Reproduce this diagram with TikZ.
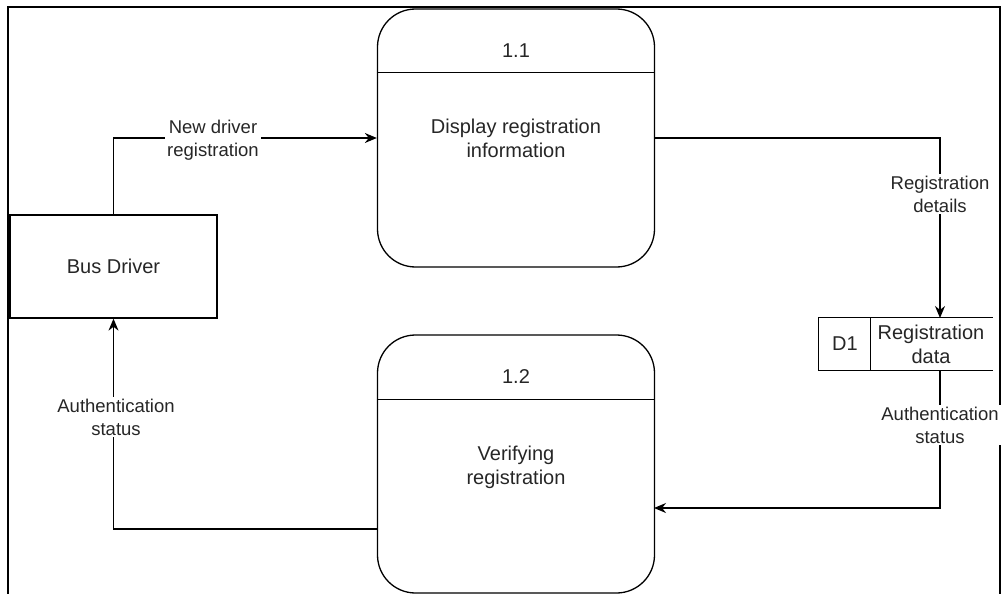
\documentclass[tikz,border=0pt]{standalone}
\usepackage{fontspec}
\setmainfont{Liberation Sans}
\usetikzlibrary{arrows.meta}

\begin{document}
\begin{tikzpicture}[x=1pt,y=-1pt,
  line width=1.3pt,
  every node/.style={text=black!85, align=center},
  proc/.style={draw, rounded corners=38pt, minimum width=277pt, minimum height=258pt},
  entity/.style={draw, minimum width=207pt, minimum height=103pt, font=\fontsize{20}{24}\selectfont},
  store/.style={minimum width=173pt, minimum height=52pt},
  maintext/.style={font=\fontsize{20}{24}\selectfont},
  flowlabel/.style={fill=white, inner sep=2pt, font=\fontsize{18.5}{23}\selectfont},
  flow/.style={-{Stealth[length=12pt,width=10pt]}}
]
\useasboundingbox (0,0) rectangle (1005,594);

% outer frame, open at the bottom
\draw[line width=1.6pt] (8,594) -- (8,7) -- (1000,7) -- (1000,594);

% external entity
\node[entity] (bd) at (113.5,266.5) {Bus Driver};

% process 1.1
\node[proc] (p11) at (516,138) {};
\draw ([yshift=-64pt]p11.north west) -- ([yshift=-64pt]p11.north east);
\node[maintext] (p11id) at (516,51) {1.1};
\node[maintext] (p11txt) at (516,138) {Display registration\\information};

% process 1.2
\node[proc] (p12) at (516,464) {};
\draw ([yshift=-65pt]p12.north west) -- ([yshift=-65pt]p12.north east);
\node[maintext] (p12id) at (516,377) {1.2};
\node[maintext] (p12txt) at (516,467) {Verifying\\registration};

% data store D1
\node[store] (ds) at (905.5,344) {};
\draw (ds.north east) -- (ds.north west) -- (ds.south west) -- (ds.south east);
\draw ([xshift=52pt]ds.north west) -- ([xshift=52pt]ds.south west);
\node[maintext] (dsid) at (845,344) {D1};
\node[maintext] (dsname) at (931,344) {Registration\\data};

% connector end points
\coordinate (dsin) at (940,318);
\coordinate (dsout) at (940,370);
\coordinate (p12in) at (654,508);
\coordinate (p12out) at (377,529);

% data flows
\draw[flow] (bd.north) |- (p11.west);
\node[flowlabel] (l1) at (213,140) {New driver\\registration};
\draw[flow] (p11.east) -| (dsin);
\node[flowlabel] (l2) at (940,194) {Registration\\details};
\draw[flow] (dsout) |- (p12in);
\node[flowlabel] (l3) at (940,425) {Authentication\\status};
\draw[flow] (p12out) -| (bd.south);
\node[flowlabel] (l4) at (116,417) {Authentication\\status};
\end{tikzpicture}
\end{document}
